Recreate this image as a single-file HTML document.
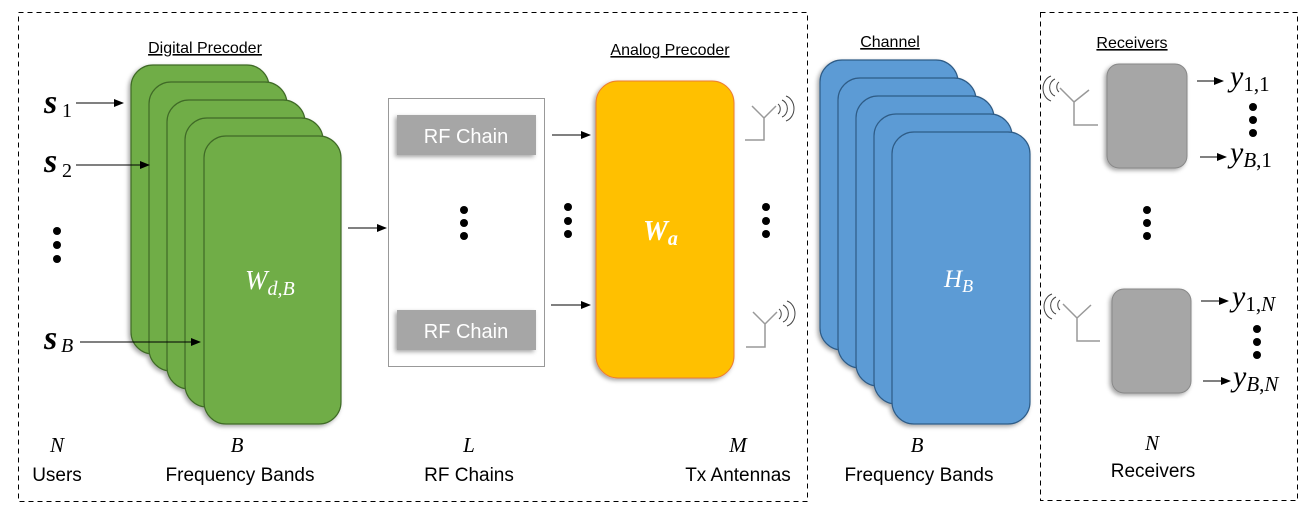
<!DOCTYPE html>
<html><head><meta charset="utf-8"><style>
html,body{margin:0;padding:0;background:#fff;}
svg{display:block;}
.s{font-family:"Liberation Sans",sans-serif;}
.m{font-family:"Liberation Serif",serif;font-style:italic;}
.r{font-family:"Liberation Serif",serif;font-style:normal;}
</style></head><body>
<svg width="1308" height="518" viewBox="0 0 1308 518" xmlns="http://www.w3.org/2000/svg">
<defs>
<marker id="a" markerWidth="10" markerHeight="8" refX="9" refY="4" orient="auto" markerUnits="userSpaceOnUse"><path d="M0,0 L10,4 L0,8 Z" fill="#000"/></marker>
<filter id="sh" x="-20%" y="-20%" width="140%" height="140%"><feDropShadow dx="-2" dy="2" stdDeviation="2" flood-opacity="0.35"/></filter>
</defs>
<rect x="18.5" y="12.5" width="789" height="489" fill="none" stroke="#000" stroke-dasharray="5,4"/>
<rect x="1040.5" y="12.5" width="257" height="488" fill="none" stroke="#000" stroke-dasharray="5,4"/>

<g fill="#70ad47" stroke="#3f6a28" stroke-width="1.2" filter="url(#sh)">
<rect x="131" y="65" width="138" height="289" rx="22"/>
<rect x="149" y="82" width="138" height="289" rx="22"/>
<rect x="167" y="100" width="138" height="289" rx="22"/>
<rect x="185" y="118" width="138" height="289" rx="22"/>
<rect x="204" y="136" width="137" height="288" rx="22"/>
</g>
<text x="205" y="53" class="s" font-size="16" text-anchor="middle" text-decoration="underline">Digital Precoder</text>
<text x="245" y="289" class="m" font-size="27" fill="#fff">W<tspan font-size="20" dy="6">d,B</tspan></text>

<text x="44" y="113" class="m" font-size="34" font-weight="bold">s</text><text x="62" y="117" class="r" font-size="20">1</text>
<line x1="76" y1="103" x2="123" y2="103" stroke="#000" marker-end="url(#a)"/>
<text x="44" y="172" class="m" font-size="34" font-weight="bold">s</text><text x="62" y="177" class="r" font-size="20">2</text>
<line x1="76" y1="165" x2="149" y2="165" stroke="#000" marker-end="url(#a)"/>
<g fill="#000"><circle cx="57" cy="231" r="4"/><circle cx="57" cy="245" r="4"/><circle cx="57" cy="259" r="4"/></g>
<text x="44" y="349" class="m" font-size="34" font-weight="bold">s</text><text x="61" y="352" class="m" font-size="20">B</text>
<line x1="80" y1="342" x2="200" y2="342" stroke="#000" marker-end="url(#a)"/>

<line x1="348" y1="228" x2="386" y2="228" stroke="#000" marker-end="url(#a)"/>

<rect x="388.5" y="98.5" width="156" height="268" fill="#fff" stroke="#999"/>
<rect x="397" y="115" width="139" height="40" fill="#a6a6a6" filter="url(#sh)"/>
<text x="466" y="143" class="s" font-size="20" fill="#fff" text-anchor="middle">RF Chain</text>
<rect x="397" y="310" width="139" height="40" fill="#a6a6a6" filter="url(#sh)"/>
<text x="466" y="338" class="s" font-size="20" fill="#fff" text-anchor="middle">RF Chain</text>
<g fill="#000"><circle cx="464" cy="210" r="4"/><circle cx="464" cy="223" r="4"/><circle cx="464" cy="236" r="4"/>
<circle cx="568" cy="207" r="4"/><circle cx="568" cy="221" r="4"/><circle cx="568" cy="234" r="4"/>
<circle cx="766" cy="207" r="4"/><circle cx="766" cy="221" r="4"/><circle cx="766" cy="234" r="4"/></g>
<line x1="552" y1="135" x2="590" y2="135" stroke="#000" marker-end="url(#a)"/>
<line x1="551" y1="305" x2="590" y2="305" stroke="#000" marker-end="url(#a)"/>

<rect x="596" y="81" width="138" height="297" rx="22" fill="#ffc000" stroke="#ed7d31" stroke-width="1" filter="url(#sh)"/>
<text x="670" y="55" class="s" font-size="16" text-anchor="middle" text-decoration="underline">Analog Precoder</text>
<text x="643" y="240" class="m" font-size="28" font-weight="bold" fill="#fff">W<tspan font-size="20" dy="5">a</tspan></text>

<g stroke="#999" stroke-width="1.5" fill="none">
<path d="M745,140 H764 V118 M764,118 L752,106 M764,118 L776,106"/>
<path d="M746,347 H765 V324 M765,324 L753,312 M765,324 L777,312"/>
</g>
<g stroke="#444" stroke-width="1" fill="none">
<path d="M778,104 a5,6 0 0 1 0,10 M782,100 a8,9 0 0 1 0,17 M786,96 a11,13 0 0 1 0,25"/>
<path d="M779,309 a5,6 0 0 1 0,10 M783,305 a8,9 0 0 1 0,17 M787,301 a11,13 0 0 1 0,25"/>
</g>

<g fill="#5b9bd5" stroke="#2f5b86" stroke-width="1.2" filter="url(#sh)">
<rect x="820" y="60" width="138" height="290" rx="22"/>
<rect x="838" y="78" width="138" height="290" rx="22"/>
<rect x="856" y="96" width="138" height="290" rx="22"/>
<rect x="874" y="114" width="138" height="290" rx="22"/>
<rect x="892" y="132" width="138" height="292" rx="22"/>
</g>
<text x="890" y="47" class="s" font-size="16" text-anchor="middle" text-decoration="underline">Channel</text>
<text x="944" y="287" class="m" font-size="25" fill="#fff">H<tspan font-size="18" dy="5">B</tspan></text>

<text x="1132" y="48" class="s" font-size="16" text-anchor="middle" text-decoration="underline">Receivers</text>
<rect x="1107" y="64" width="80" height="104" rx="12" fill="#a6a6a6" stroke="#888" filter="url(#sh)"/>
<rect x="1112" y="289" width="79" height="104" rx="12" fill="#a6a6a6" stroke="#888" filter="url(#sh)"/>
<g stroke="#999" stroke-width="1.5" fill="none">
<path d="M1098,125 H1074 V102 M1074,102 L1060,88 M1074,102 L1089,90"/>
<path d="M1100,341 H1077 V318 M1077,318 L1063,304 M1077,318 L1091,305"/>
</g>
<g stroke="#444" stroke-width="1" fill="none">
<path d="M1059,82 a5,6 0 0 0 0,10 M1055,79 a8,9 0 0 0 0,17 M1051,76 a11,13 0 0 0 0,25"/>
<path d="M1060,300 a5,6 0 0 0 0,10 M1056,297 a8,9 0 0 0 0,17 M1052,294 a11,13 0 0 0 0,25"/>
</g>
<g fill="#000">
<circle cx="1253" cy="107" r="4"/><circle cx="1253" cy="120" r="4"/><circle cx="1253" cy="133" r="4"/>
<circle cx="1147" cy="210" r="4"/><circle cx="1147" cy="223" r="4"/><circle cx="1147" cy="236" r="4"/>
<circle cx="1257" cy="329" r="4"/><circle cx="1257" cy="342" r="4"/><circle cx="1257" cy="355" r="4"/>
</g>
<line x1="1197" y1="81" x2="1223" y2="81" stroke="#000" marker-end="url(#a)"/>
<line x1="1200" y1="157" x2="1226" y2="157" stroke="#000" marker-end="url(#a)"/>
<line x1="1201" y1="301" x2="1228" y2="301" stroke="#000" marker-end="url(#a)"/>
<line x1="1203" y1="381" x2="1230" y2="381" stroke="#000" marker-end="url(#a)"/>
<text x="1230" y="86" class="m" font-size="30">y<tspan class="r" font-size="21" dy="5">1,1</tspan></text>
<text x="1230" y="162" class="m" font-size="30">y<tspan font-size="21" dy="5">B</tspan><tspan class="r" font-size="21">,1</tspan></text>
<text x="1232" y="306" class="m" font-size="30">y<tspan class="r" font-size="21" dy="5">1,</tspan><tspan font-size="21">N</tspan></text>
<text x="1233" y="386" class="m" font-size="30">y<tspan font-size="21" dy="5">B</tspan><tspan class="r" font-size="21">,</tspan><tspan font-size="21">N</tspan></text>

<g text-anchor="middle">
<text x="57" y="452" class="m" font-size="21">N</text>
<text x="237" y="452" class="m" font-size="21">B</text>
<text x="469" y="452" class="m" font-size="21">L</text>
<text x="738" y="452" class="m" font-size="21">M</text>
<text x="917" y="452" class="m" font-size="21">B</text>
<text x="1152" y="450" class="m" font-size="21">N</text>
<g class="s" font-size="19">
<text x="57" y="481">Users</text>
<text x="240" y="481">Frequency Bands</text>
<text x="469" y="481">RF Chains</text>
<text x="738" y="481">Tx Antennas</text>
<text x="919" y="481">Frequency Bands</text>
<text x="1153" y="477">Receivers</text>
</g>
</g>
</svg>
</body></html>
